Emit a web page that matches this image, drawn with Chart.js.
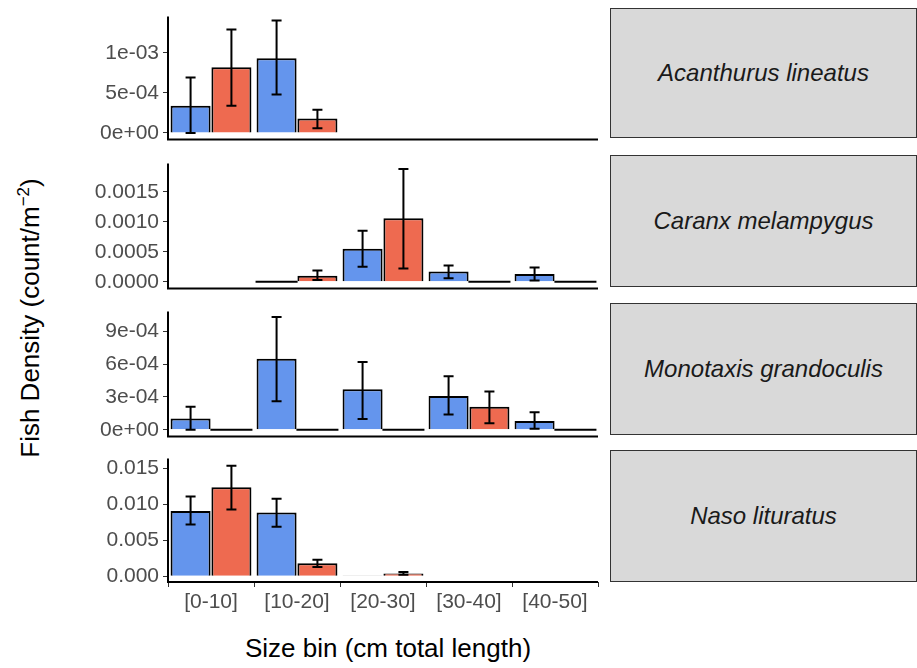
<!DOCTYPE html>
<html><head><meta charset="utf-8">
<script src="https://cdn.jsdelivr.net/npm/chart.js@4"></script>
<style>
body{margin:0;background:#fff;font-family:"Liberation Sans",Arial,sans-serif;}
#wrap{position:relative;width:917px;height:668px;}
.box{position:absolute;left:0;width:600px;}
.strip{position:absolute;left:610px;width:307px;background:#d9d9d9;border:1px solid #333;box-sizing:border-box;
 display:flex;align-items:center;justify-content:center;font-style:italic;font-size:24px;color:#1a1a1a;}
#ytitle{position:absolute;left:30px;top:318px;transform:translate(-50%,-50%) rotate(-90deg);font-size:26px;white-space:nowrap;}
#xtitle{position:absolute;left:388px;top:648px;transform:translate(-50%,-50%);font-size:26px;white-space:nowrap;}
</style></head><body>
<div id="wrap">
<div id="ytitle">Fish Density (count/m<sup style="font-size:17px">−2</sup>)</div>
<div id="xtitle">Size bin (cm total length)</div>
</div>
<script>
// ---- data ----
const sizeBins = ['[0-10]', '[10-20]', '[20-30]', '[30-40]', '[40-50]'];
const species = ['Acanthurus lineatus', 'Caranx melampygus', 'Monotaxis grandoculis', 'Naso lituratus'];

const blueMean = [
  [3.4e-4, 9.3e-4, null, null, null],
  [null, 0, 0.00055, 0.00017, 0.00013],
  [1.04e-4, 6.5e-4, 3.7e-4, 3.1e-4, 0.8e-4],
  [0.0091, 0.0089, 0.0001, null, null]
];
const blueLo = [
  [0, 4.8e-4, null, null, null],
  [null, 0, 0.00025, 0.00006, 0.00002],
  [0, 2.6e-4, 1.0e-4, 1.4e-4, 0.1e-4],
  [0.0072, 0.0069, 0.0001, null, null]
];
const blueHi = [
  [6.9e-4, 1.4e-3, null, null, null],
  [null, 0, 0.00085, 0.00027, 0.00024],
  [2.1e-4, 1.03e-3, 6.2e-4, 4.9e-4, 1.6e-4],
  [0.0111, 0.0108, 0.0001, null, null]
];
const redMean = [
  [8.2e-4, 1.8e-4, null, null, null],
  [null, 0.0001, 0.00106, 0, 0],
  [0, 0, 0, 2.1e-4, 0],
  [0.0124, 0.0018, 0.0004, null, null]
];
const redLo = [
  [3.4e-4, 0.6e-4, null, null, null],
  [null, 0.00003, 0.00022, 0, 0],
  [0, 0, 0, 0.6e-4, 0],
  [0.0093, 0.0013, 0.0002, null, null]
];
const redHi = [
  [1.29e-3, 2.9e-4, null, null, null],
  [null, 0.00019, 0.00188, 0, 0],
  [0, 0, 0, 3.5e-4, 0],
  [0.0154, 0.0023, 0.0006, null, null]
];

const yRange = [[-0.00008, 0.00145], [-0.00011, 0.00197], [-0.00006, 0.00108], [-0.0008, 0.0164]];
const yTicks = [[0, 5e-4, 1e-3], [0, 0.0005, 0.001, 0.0015], [0, 3e-4, 6e-4, 9e-4], [0, 0.005, 0.01, 0.015]];
const yLabels = [
  ['0e+00', '5e-04', '1e-03'],
  ['0.0000', '0.0005', '0.0010', '0.0015'],
  ['0e+00', '3e-04', '6e-04', '9e-04'],
  ['0.000', '0.005', '0.010', '0.015']
];

// ---- layout ----
const rows = [{top: 0, h: 156}, {top: 147, h: 158}, {top: 295, h: 158}, {top: 442, h: 180}];
const plotTops = [8, 155, 303, 450];
const plotH = [130, 132, 132, 132];
const BLUE = '#6495ED', RED = '#EE6A50';

const errorBars = {
  id: 'errorBars',
  afterDatasetsDraw(chart) {
    const ctx = chart.ctx, ys = chart.scales.y, area = chart.chartArea;
    ctx.save();
    ctx.strokeStyle = '#000';
    ctx.lineWidth = 2;
    chart.data.datasets.forEach((ds, di) => {
      const meta = chart.getDatasetMeta(di);
      meta.data.forEach((bar, i) => {
        const v = ds.data[i];
        if (v === null) return;
        const half = bar.width / 2;
        if (v === 0) {
          ctx.beginPath();
          ctx.moveTo(bar.x - half - 1, ys.getPixelForValue(0));
          ctx.lineTo(bar.x + half + 1, ys.getPixelForValue(0));
          ctx.stroke();
        }
        const lo = ds.lo[i], hi = ds.hi[i];
        if (hi === lo) return;
        const yl = ys.getPixelForValue(lo), yh = ys.getPixelForValue(hi);
        ctx.beginPath();
        ctx.moveTo(bar.x, yl); ctx.lineTo(bar.x, yh);
        ctx.moveTo(bar.x - 5, yl); ctx.lineTo(bar.x + 5, yl);
        ctx.moveTo(bar.x - 5, yh); ctx.lineTo(bar.x + 5, yh);
        ctx.stroke();
      });
    });
    ctx.beginPath();
    ctx.moveTo(area.left, area.top); ctx.lineTo(area.left, area.bottom);
    ctx.lineTo(area.right, area.bottom);
    ctx.stroke();
    ctx.restore();
  }
};

const wrap = document.getElementById('wrap');
species.forEach((sp, p) => {
  const box = document.createElement('div');
  box.className = 'box';
  box.style.top = rows[p].top + 'px';
  box.style.height = rows[p].h + 'px';
  const cv = document.createElement('canvas');
  box.appendChild(cv);
  wrap.appendChild(box);

  const strip = document.createElement('div');
  strip.className = 'strip';
  strip.style.top = plotTops[p] + 'px';
  strip.style.height = plotH[p] + 'px';
  strip.textContent = sp;
  wrap.appendChild(strip);

  const last = p === 3;
  new Chart(cv, {
    type: 'bar',
    data: {
      labels: sizeBins,
      datasets: [
        {data: blueMean[p], lo: blueLo[p], hi: blueHi[p], backgroundColor: BLUE, borderColor: '#000', borderWidth: 2, borderSkipped: 'bottom'},
        {data: redMean[p], lo: redLo[p], hi: redHi[p], backgroundColor: RED, borderColor: '#000', borderWidth: 2, borderSkipped: 'bottom'}
      ]
    },
    options: {
      responsive: true,
      maintainAspectRatio: false,
      animation: false,
      layout: {padding: {top: 8, right: 2, bottom: last ? 0 : 2, left: 0}},
      datasets: {bar: {categoryPercentage: 0.95, barPercentage: 0.98}},
      plugins: {legend: {display: false}, tooltip: {enabled: false}},
      scales: {
        x: {
          display: last,
          grid: {drawOnChartArea: false, drawTicks: true, tickLength: 5, color: '#333'},
          border: {display: false},
          ticks: {color: '#4d4d4d', font: {size: 21, family: 'Liberation Sans'}, maxRotation: 0, autoSkip: false, padding: 3},
          afterFit: s => { s.height = last ? 40 : 0; }
        },
        y: {
          min: yRange[p][0], max: yRange[p][1],
          grid: {drawOnChartArea: false, drawTicks: true, tickLength: 5, color: '#333'},
          border: {display: false},
          afterBuildTicks: s => { s.ticks = yTicks[p].map(v => ({value: v})); },
          ticks: {
            color: '#4d4d4d', font: {size: 21, family: 'Liberation Sans'}, padding: 4,
            callback: (v, i) => yLabels[p][i]
          },
          afterFit: s => { s.width = 168; }
        }
      }
    },
    plugins: [errorBars]
  });
});
</script>
</body></html>
